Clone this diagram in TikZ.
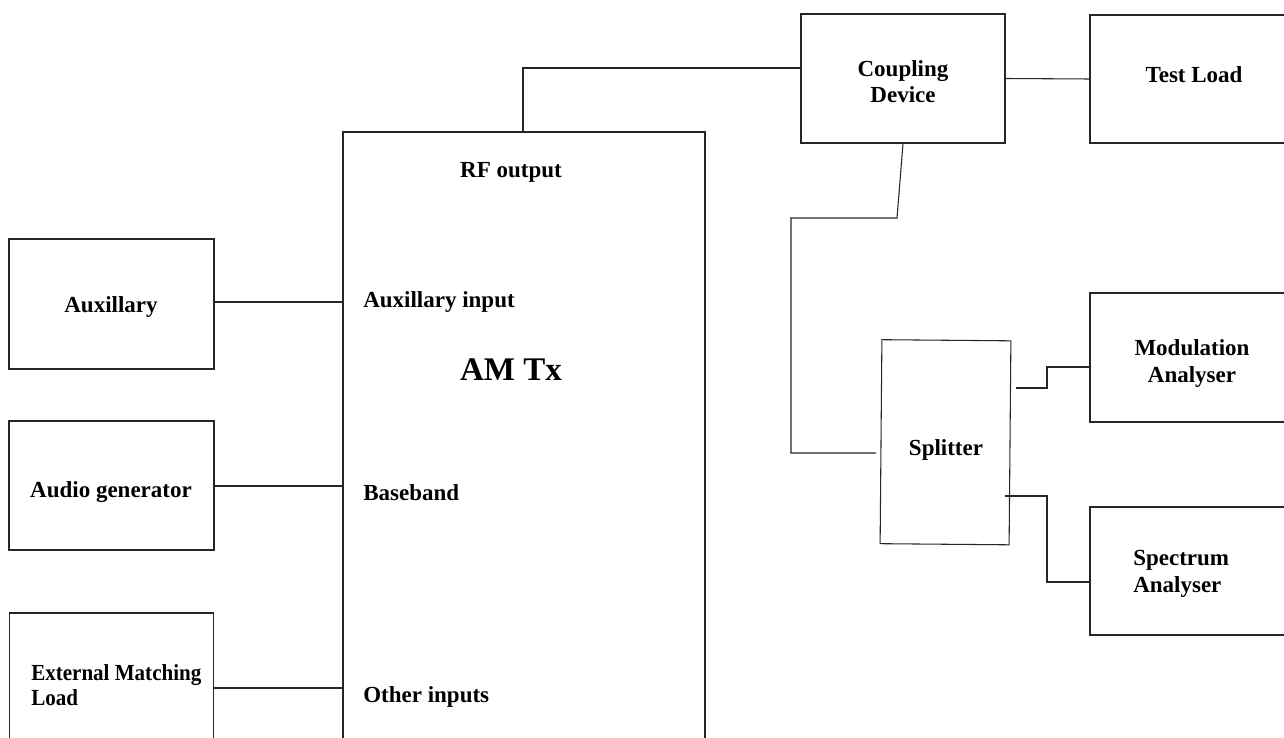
\documentclass[tikz,border=0pt]{standalone}
\usepackage{fontspec}
\setmainfont{Liberation Serif}
\begin{document}
\begin{tikzpicture}[x=0.75pt,y=-0.75pt,
  box/.style={draw=black!85, line width=0.8pt, inner sep=0pt},
  lbl/.style={font=\fontsize{17.25pt}{19.5pt}\selectfont\bfseries, inner sep=0pt, anchor=base},
  lblw/.style={lbl, anchor=base west},
  big/.style={font=\fontsize{24.75pt}{28pt}\selectfont\bfseries, inner sep=0pt, anchor=base},
  wire/.style={draw=black!85, line width=0.8pt}]
\clip (0,0) rectangle (1284,738);
% boxes
\node[box, minimum width=205*0.75pt, minimum height=130*0.75pt] (aux) at (111.5,304) {};
\node[box, minimum width=205*0.75pt, minimum height=129*0.75pt] (audio) at (111.5,485.5) {};
\node[box, minimum width=204*0.75pt, minimum height=157*0.75pt] (eml) at (111.5,691.5) {};
\node[box, minimum width=362*0.75pt, minimum height=638*0.75pt] (amtx) at (524,451) {};
\node[box, minimum width=204*0.75pt, minimum height=129*0.75pt] (coupling) at (903,78.5) {};
\node[box, minimum width=210*0.75pt, minimum height=128*0.75pt] (testload) at (1195,79) {};
\node[box, minimum width=210*0.75pt, minimum height=129*0.75pt] (modul) at (1195,357.5) {};
\node[box, minimum width=210*0.75pt, minimum height=128*0.75pt] (spectrum) at (1195,571) {};
\node[box, minimum width=129*0.75pt, minimum height=204*0.75pt, rotate=-0.5] (splitter) at (945.5,442.25) {};
% labels
\node[lbl] (tAux) at (111,312) {Auxillary};
\node[lbl] (tAudio) at (111,497) {Audio generator};
\node[lblw] (tEml1) at (31,680) {\scalebox{0.915}[1]{External Matching}};
\node[lblw] (tEml2) at (31,705) {\scalebox{0.915}[1]{Load}};
\node[lbl] (tRf) at (511,177) {RF output};
\node[lblw] (tAuxIn) at (363,307) {Auxillary input};
\node[big] (tAm) at (511,380) {AM Tx};
\node[lblw] (tBase) at (363,500) {Baseband};
\node[lblw] (tOther) at (363,702) {Other inputs};
\node[lbl] (tCoup1) at (903,77) {Coupling};
\node[lbl] (tCoup2) at (903,103) {Device};
\node[lbl] (tTest) at (1194,83) {Test Load};
\node[lbl] (tSplit) at (946,455) {Splitter};
\node[lbl] (tMod1) at (1192,355) {Modulation};
\node[lbl] (tMod2) at (1192,382) {Analyser};
\node[lblw] (tSpec1) at (1133,565) {Spectrum};
\node[lblw] (tSpec2) at (1133,592) {Analyser};
% connectors
\coordinate (sIn) at (876,453);
\coordinate (sOutA) at (1016,388);
\coordinate (sOutB) at (1005,496);
\draw[wire] (aux.east |- 0,302) -- (amtx.west |- 0,302);
\draw[wire] (audio.east |- 0,486) -- (amtx.west |- 0,486);
\draw[wire] (eml.east |- 0,688) -- (amtx.west |- 0,688);
\draw[wire] (amtx.north -| 523,0) -- (523,68) -- (coupling.west |- 0,68);
\draw[wire] (coupling.east) -- (testload.west);
\draw[wire] (coupling.south) -- (897,218) -- (791,218) |- (sIn);
\draw[wire] (sOutA) -- (1047,388) -- (1047,367) -- (modul.west |- 0,367);
\draw[wire] (sOutB) -- (1047,496) -- (1047,582) -- (spectrum.west |- 0,582);
\end{tikzpicture}
\end{document}
